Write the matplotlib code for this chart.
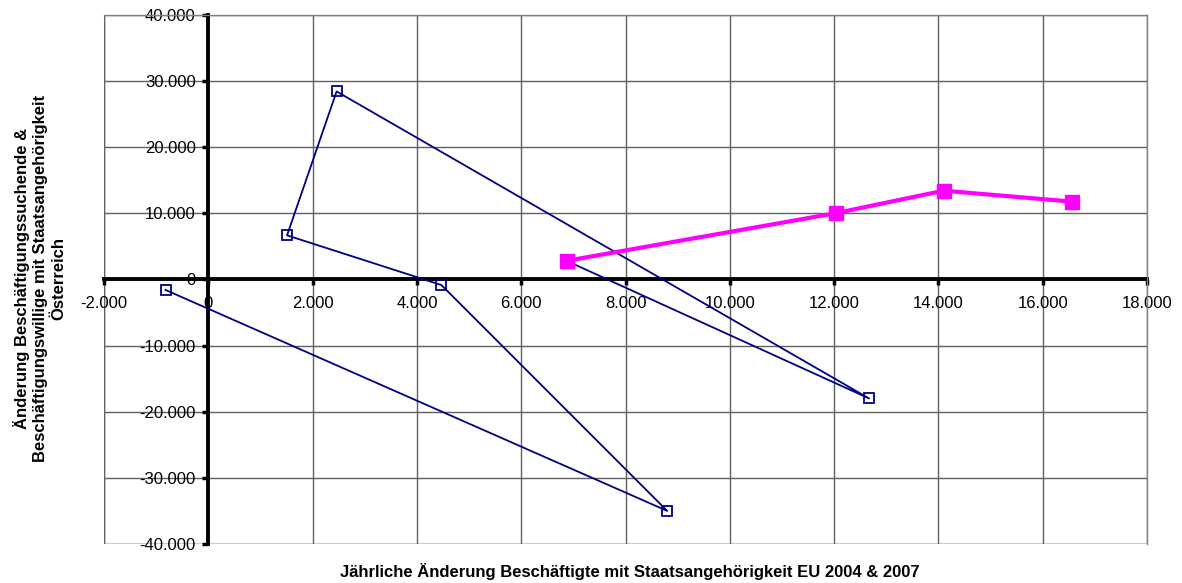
import matplotlib
matplotlib.use("Agg")
import matplotlib.pyplot as plt
from matplotlib.ticker import FuncFormatter

plt.rcParams['font.family'] = ['Liberation Sans', 'DejaVu Sans']

# Blue trajectory: yearly changes (x: EU 2004 & 2007 employees, y: job seekers AT)
blue_x = [-820, 8800, 4470, 1510, 2460, 12670, 6870]
blue_y = [-1600, -35000, -860, 6650, 28400, -18000, 2800]

# Magenta trajectory
pink_x = [6870, 12030, 14100, 16560]
pink_y = [2800, 10000, 13400, 11750]

x_ticks = list(range(-2000, 18001, 2000))
y_ticks = list(range(-40000, 40001, 10000))

x_label = "Jährliche Änderung Beschäftigte mit Staatsangehörigkeit EU 2004 & 2007"
y_label = ("Änderung Beschäftigungssuchende &\n"
           "Beschäftigungswillige mit Staatsangehörigkeit\n"
           "Österreich")

W, H = 1182, 583
fig = plt.figure(figsize=(W / 100, H / 100), dpi=100)
left, right, top, bottom = 104, 1147, 14.7, 544
ax = fig.add_axes([left / W, 1 - bottom / H, (right - left) / W, (bottom - top) / H])

ax.set_xlim(x_ticks[0], x_ticks[-1])
ax.set_ylim(y_ticks[0], y_ticks[-1])
ax.set_xticks(x_ticks)
ax.set_yticks(y_ticks)


def de_fmt(v, pos):
    return f"{int(v):,}".replace(",", ".")


ax.xaxis.set_major_formatter(FuncFormatter(de_fmt))
ax.yaxis.set_major_formatter(FuncFormatter(de_fmt))

ax.grid(True, color='#606060', linewidth=1.0, zorder=0)
ax.set_axisbelow(True)

for s in ('top', 'right'):
    ax.spines[s].set_color('#808080')
    ax.spines[s].set_linewidth(1.0)
ax.spines['left'].set_position(('data', 0))
ax.spines['bottom'].set_position(('data', 0))
ax.spines['left'].set_linewidth(2.8)
ax.spines['bottom'].set_linewidth(2.8)
ax.spines['left'].set_zorder(1.5)
ax.spines['bottom'].set_zorder(1.5)
# outer frame on the left/bottom edges
ax.axvline(x_ticks[0], color='#808080', linewidth=1.0, zorder=0.5)
ax.axhline(y_ticks[0], color='#808080', linewidth=1.0, zorder=0.5)

ax.tick_params(axis='both', direction='out', length=4, width=2.5, color='black',
               labelsize=12)
ax.tick_params(axis='y', pad=5)
ax.tick_params(axis='x', pad=8)

ax.plot(blue_x, blue_y, color='#000080', linewidth=1.3, marker='s', markersize=7,
        markerfacecolor='none', markeredgecolor='#000080', markeredgewidth=1.3, zorder=3)
ax.plot(pink_x, pink_y, color='#FF00FF', linewidth=3, marker='s', markersize=10,
        markerfacecolor='#FF00FF', markeredgecolor='#FF00FF', zorder=4)

fig.text(630 / W, 1 - 572 / H, x_label, ha='center', va='center',
         fontsize=12, fontweight='bold')
fig.text(40 / W, 1 - 278 / H, y_label, ha='center', va='center', rotation=90,
         fontsize=12, fontweight='bold', multialignment='center', linespacing=1.25)

fig.savefig("out.png", dpi=100)
